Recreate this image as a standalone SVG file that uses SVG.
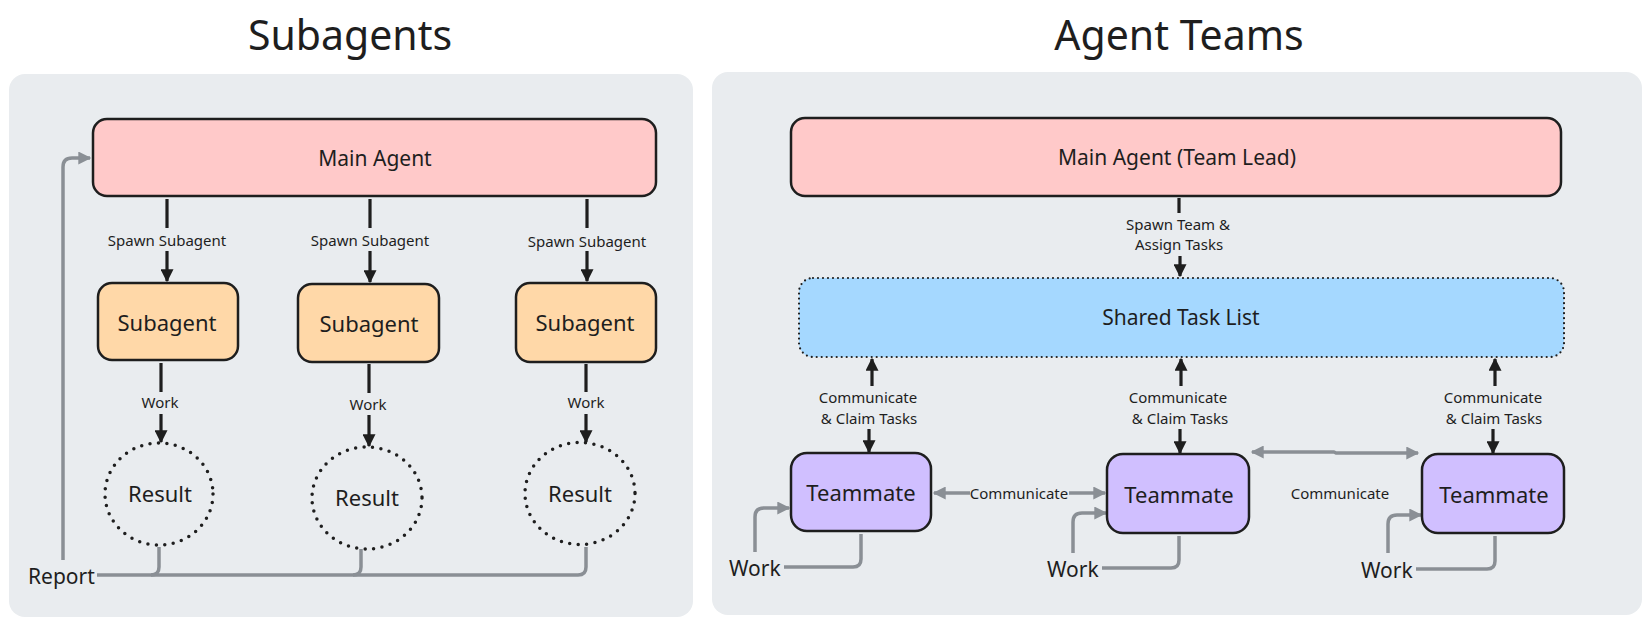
<svg xmlns="http://www.w3.org/2000/svg" width="1650" height="627" viewBox="0 0 1650 627">
<defs>
<style>
text{font-family:"Noto Sans","Open Sans","DejaVu Sans",sans-serif;fill:#1e1e1e;text-anchor:middle}
.title{font-size:41px}
.node{font-size:21px}
.big{font-size:22px}
.lbl{font-size:15px}
.side{font-size:21px;text-anchor:start}
.panel{fill:#e9ecef}
.box{stroke:#1e1e1e;stroke-width:2.5}
.main{fill:#ffc9c9}
.sub{fill:#ffd8a8}
.team{fill:#d0bfff}
.shared{fill:#a5d8ff;stroke:#1e1e1e;stroke-width:2.2;stroke-dasharray:0 5;stroke-linecap:round}
.res{fill:none;stroke:#1e1e1e;stroke-width:3.5;stroke-dasharray:0 8.5;stroke-linecap:round}
.blk{fill:none;stroke:#1e1e1e;stroke-width:3.2}
.gry{fill:none;stroke:#8a8f95;stroke-width:3.5;stroke-linejoin:round}
</style>
<marker id="ab" viewBox="0 0 10 10" refX="9" refY="5" markerWidth="14" markerHeight="13" markerUnits="userSpaceOnUse" orient="auto-start-reverse"><path d="M0,0 L10,5 L0,10 Z" fill="#1e1e1e"/></marker>
<marker id="ag" viewBox="0 0 10 10" refX="9" refY="5" markerWidth="14" markerHeight="13" markerUnits="userSpaceOnUse" orient="auto-start-reverse"><path d="M0,0 L10,5 L0,10 Z" fill="#8a8f95"/></marker>
</defs>

<rect class="panel" x="9" y="74" width="684" height="543" rx="16"/>
<rect class="panel" x="712" y="72" width="930" height="543" rx="16"/>
<text class="title" x="350" y="50">Subagents</text>
<text class="title" x="1179" y="50">Agent Teams</text>

<g id="connectors">
<path class="blk" d="M167 199 V228"/>
<path class="blk" d="M167 251 V281" marker-end="url(#ab)"/>
<path class="blk" d="M370 199 V228"/>
<path class="blk" d="M370 251 V282" marker-end="url(#ab)"/>
<path class="blk" d="M587 199 V228"/>
<path class="blk" d="M587 251 V281" marker-end="url(#ab)"/>
<path class="blk" d="M161 363 V392"/>
<path class="blk" d="M161 414 V442" marker-end="url(#ab)"/>
<path class="blk" d="M369 364 V393"/>
<path class="blk" d="M369 415 V446" marker-end="url(#ab)"/>
<path class="blk" d="M586 364 V392"/>
<path class="blk" d="M586 414 V442" marker-end="url(#ab)"/>
<path class="gry" d="M97 575 H578 Q586 575 586 567 V547"/>
<path class="gry" d="M159 547 V567 Q159 575 151 575"/>
<path class="gry" d="M361 549 V567 Q361 575 353 575"/>
<path class="gry" d="M63 560 V167 Q63 158 72 158 H90" marker-end="url(#ag)"/>
<path class="blk" d="M1179 198 V213"/>
<path class="blk" d="M1180 256 V276" marker-end="url(#ab)"/>
<path class="blk" d="M872 386 V359" marker-end="url(#ab)"/>
<path class="blk" d="M869 429 V452" marker-end="url(#ab)"/>
<path class="blk" d="M1181 386 V359" marker-end="url(#ab)"/>
<path class="blk" d="M1180 429 V453" marker-end="url(#ab)"/>
<path class="blk" d="M1495 386 V359" marker-end="url(#ab)"/>
<path class="blk" d="M1493 429 V453" marker-end="url(#ab)"/>
<path class="gry" d="M970 493 H934" marker-end="url(#ag)"/>
<path class="gry" d="M1069 493 H1105" marker-end="url(#ag)"/>
<path class="gry" d="M1252 452 H1334 L1336 453 H1418" marker-start="url(#ag)" marker-end="url(#ag)"/>
<path class="gry" d="M861 534 V559 Q861 567 853 567 H784"/>
<path class="gry" d="M755 552 V517 Q755 508 764 508 H789" marker-end="url(#ag)"/>
<path class="gry" d="M1179 536 V560 Q1179 568 1171 568 H1102"/>
<path class="gry" d="M1073 553 V522 Q1073 513 1082 513 H1106" marker-end="url(#ag)"/>
<path class="gry" d="M1495 536 V561 Q1495 569 1487 569 H1416"/>
<path class="gry" d="M1388 553 V524 Q1388 515 1397 515 H1421" marker-end="url(#ag)"/>
</g>

<g id="labels">
<text class="lbl" x="167" y="245.5">Spawn Subagent</text>
<text class="lbl" x="370" y="245.5">Spawn Subagent</text>
<text class="lbl" x="587" y="246.5">Spawn Subagent</text>
<text class="lbl" x="160" y="407.5">Work</text>
<text class="lbl" x="368" y="409.5">Work</text>
<text class="lbl" x="586" y="408">Work</text>
<text class="side" x="28" y="583.5">Report</text>
<text class="lbl" x="1178" y="229.5">Spawn Team &amp;</text>
<text class="lbl" x="1179" y="249.5">Assign Tasks</text>
<text class="lbl" x="868" y="402.5">Communicate</text>
<text class="lbl" x="869" y="423.5">&amp; Claim Tasks</text>
<text class="lbl" x="1178" y="402.5">Communicate</text>
<text class="lbl" x="1180" y="423.5">&amp; Claim Tasks</text>
<text class="lbl" x="1493" y="402.5">Communicate</text>
<text class="lbl" x="1494" y="424">&amp; Claim Tasks</text>
<text class="lbl" x="1019" y="498.5">Communicate</text>
<text class="lbl" x="1340" y="498.5">Communicate</text>
<text class="side" x="729" y="575.5">Work</text>
<text class="side" x="1047" y="577">Work</text>
<text class="side" x="1361" y="577.5">Work</text>
</g>

<g id="main-agent">
<rect class="box main" x="93" y="119" width="563" height="77" rx="14"/>
<text class="node" x="375" y="165.5">Main Agent</text>
</g>
<g id="subagent-1">
<rect class="box sub" x="98" y="283" width="140" height="77" rx="14"/>
<text class="big" x="167" y="331">Subagent</text>
</g>
<g id="subagent-2">
<rect class="box sub" x="298" y="284" width="141" height="78" rx="14"/>
<text class="big" x="369" y="332">Subagent</text>
</g>
<g id="subagent-3">
<rect class="box sub" x="516" y="283" width="140" height="79" rx="14"/>
<text class="big" x="585" y="331">Subagent</text>
</g>
<g id="result-1">
<ellipse class="res" cx="159" cy="494" rx="54" ry="51"/>
<text class="big" x="160" y="502">Result</text>
</g>
<g id="result-2">
<ellipse class="res" cx="367" cy="498" rx="55" ry="51"/>
<text class="big" x="367" y="506">Result</text>
</g>
<g id="result-3">
<ellipse class="res" cx="580" cy="493.5" rx="55" ry="51"/>
<text class="big" x="580" y="502">Result</text>
</g>

<g id="team-lead">
<rect class="box main" x="791" y="118" width="770" height="78" rx="14"/>
<text class="node" x="1177" y="164.5">Main Agent (Team Lead)</text>
</g>
<g id="shared-task-list">
<rect class="shared" x="799" y="278" width="765" height="79" rx="14"/>
<text class="node" x="1181" y="324.5">Shared Task List</text>
</g>
<g id="teammate-1">
<rect class="box team" x="791" y="453" width="140" height="78" rx="16"/>
<text class="big" x="861" y="501">Teammate</text>
</g>
<g id="teammate-2">
<rect class="box team" x="1107" y="454" width="142" height="79" rx="16"/>
<text class="big" x="1179" y="503">Teammate</text>
</g>
<g id="teammate-3">
<rect class="box team" x="1422" y="454" width="142" height="79" rx="16"/>
<text class="big" x="1494" y="503">Teammate</text>
</g>
</svg>
